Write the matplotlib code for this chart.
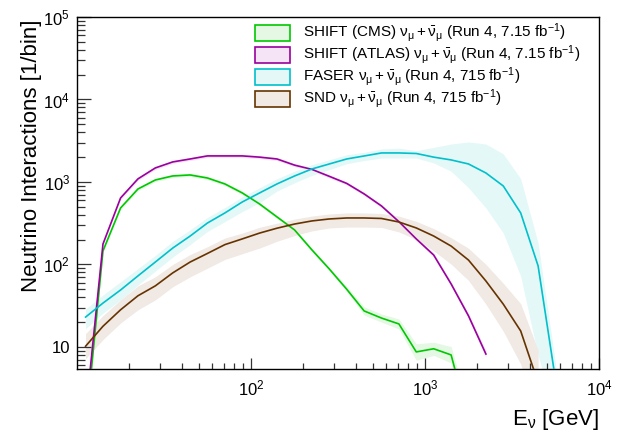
import numpy as np
import matplotlib
matplotlib.use("Agg")
import matplotlib.pyplot as plt
from matplotlib.patches import Rectangle

plt.rcParams['font.family'] = ['Liberation Sans', 'DejaVu Sans']
plt.rcParams['mathtext.fontset'] = 'custom'
plt.rcParams['mathtext.rm'] = 'Liberation Sans'
plt.rcParams['mathtext.it'] = 'Liberation Sans'
plt.rcParams['mathtext.bf'] = 'Liberation Sans:bold'

# bin centres [GeV], 10 bins per decade
energy = [11.2, 14.1, 17.8, 22.4, 28.2, 35.5, 44.7, 56.2, 70.8, 89.1, 112, 141, 178, 224,
          282, 355, 447, 562, 708, 891, 1122, 1413, 1778, 2239, 2818, 3548, 4467, 5623]

# SHIFT (CMS)
cms = [1.0, 146, 484, 822, 1057, 1183, 1216, 1117, 946, 736, 541, 377, 262, 150, 88, 50,
       27.3, 22.4, 19, 8.7, 9.5, 8.0, 1.3]
cms_hi = [1.05, 153, 507, 861, 1107, 1239, 1274, 1170, 991, 771, 567, 395, 274, 157, 92, 54,
          30.6, 25.1, 21.8, 10.9, 11.4, 10.1, 1.8]
cms_lo = [0.95, 139, 462, 785, 1009, 1130, 1161, 1067, 903, 703, 517, 360, 250, 143, 84, 47,
          24.3, 20.0, 16.5, 6.9, 7.9, 6.4, 0.9]

# SHIFT (ATLAS)
atlas = [1.5, 177, 640, 1090, 1480, 1750, 1900, 2070, 2070, 2070, 2000, 1900, 1600, 1420,
         1170, 960, 716, 512, 330, 204, 130, 58, 23.8, 8.2]
atlas_hi = [1.6, 184, 668, 1136, 1540, 1823, 1980, 2160, 2160, 2160, 2085, 1982, 1670, 1480,
            1220, 1002, 748, 535, 346, 214, 137, 61.5, 25.5, 9.0]
atlas_lo = [1.4, 170, 613, 1045, 1420, 1680, 1822, 1985, 1985, 1985, 1918, 1822, 1533, 1360,
            1120, 920, 686, 490, 315, 195, 124, 54.7, 22.2, 7.5]

# FASER
faser = [23, 34, 49, 72.6, 107, 158, 221, 318, 421, 572, 736, 946, 1182, 1438, 1653, 1900,
         2066, 2248, 2248, 2214, 2000, 1850, 1653, 1285, 894, 421, 96, 4]
faser_hi = [28.8, 42.7, 61.7, 89, 129, 191, 263, 372, 490, 661, 851, 1096, 1349, 1622, 1862,
            2138, 2291, 2512, 2570, 2399, 2630, 2884, 3055, 2884, 2188, 1096, 182, 6.3]
faser_lo = [16.6, 25.7, 37.2, 56.2, 83.2, 123, 174, 251, 331, 437, 562, 776, 977, 1202, 1413,
            1660, 1820, 1950, 1950, 1950, 1700, 1349, 851, 484, 240, 72, 7.8, 1.6]

# SND
snd = [10.2, 17.8, 28.2, 41.7, 55, 79, 107, 136, 174, 204, 240, 275, 309, 337, 356, 366,
       366, 361, 327, 277, 221, 167, 113, 63, 33, 15.6, 3.7]
snd_hi = [14.5, 24, 37.2, 55, 70.8, 100, 132, 164, 209, 240, 282, 316, 355, 386, 409, 421,
          421, 415, 385, 333, 272, 211, 157, 100, 59, 33.4, 9.1]
snd_lo = [7.2, 12.3, 19.5, 28.2, 37.2, 53.7, 70.8, 90.2, 115, 135, 158, 191, 224, 255, 277,
          284, 284, 281, 248, 200, 146, 101, 64, 33, 15.5, 6.2, 1.15]

series = [
    (r"SHIFT (CMS) $\nu_{\mu}+\bar{\nu}_{\mu}$ (Run 4, 7.15 fb$^{-1}$)", cms, cms_hi, cms_lo, '#00c800', '#e4f8e4'),
    (r"SHIFT (ATLAS) $\nu_{\mu}+\bar{\nu}_{\mu}$ (Run 4, 7.15 fb$^{-1}$)", atlas, atlas_hi, atlas_lo, '#9a009e', '#f5e4f5'),
    (r"FASER $\nu_{\mu}+\bar{\nu}_{\mu}$ (Run 4, 715 fb$^{-1}$)", faser, faser_hi, faser_lo, '#00c0cc', '#e4f8f8'),
    (r"SND $\nu_{\mu}+\bar{\nu}_{\mu}$ (Run 4, 715 fb$^{-1}$)", snd, snd_hi, snd_lo, '#663300', '#f0e9e4'),
]

fig = plt.figure(figsize=(6.21, 4.37), dpi=100)
ax = fig.add_axes([77/621, 1-369/437, 522/621, 352/437])

for label, y, hi, lo, col, fill in series:
    x = energy[:len(y)]
    ax.fill_between(x, lo, hi, color=fill, lw=0, zorder=1)
for label, y, hi, lo, col, fill in series:
    x = energy[:len(y)]
    ax.plot(x, y, color=col, lw=1.2, zorder=3)

ax.set_xscale('log')
ax.set_yscale('log')
ax.set_xlim(10, 1e4)
ax.set_ylim(5.4, 1e5)

ax.set_xticks([100, 1000, 10000])
ax.set_xticklabels([r"$10^{2}$", r"$10^{3}$", r"$10^{4}$"])
ax.set_yticks([10, 100, 1000, 10000, 100000])
ax.set_yticklabels(["10", r"$10^{2}$", r"$10^{3}$", r"$10^{4}$", r"$10^{5}$"])
ax.tick_params(axis='both', which='both', direction='in', labelsize=12, width=0.9, color='#333333')
ax.tick_params(axis='y', which='major', length=10, pad=5)
ax.tick_params(axis='y', which='minor', length=5.5)
ax.tick_params(axis='x', which='major', length=8, pad=7)
ax.tick_params(axis='x', which='minor', length=4)
for s in ax.spines.values():
    s.set_linewidth(1.0)

# legend drawn by hand, ROOT style
for i, (label, y, hi, lo, col, fill) in enumerate(series):
    yc = (369 - (33 + 22 * i)) / 352
    ax.add_patch(Rectangle((0.341, yc - 0.0227), 0.067, 0.0455, transform=ax.transAxes,
                           facecolor=fill, edgecolor=col, lw=1.2, zorder=5))
    ax.text(0.433, yc, label, transform=ax.transAxes, fontsize=11, va='center', ha='left')

fig.text(32/621, 1-19/437, "Neutrino Interactions [1/bin]", rotation=90, ha='center', va='top', fontsize=16)
fig.text(599/621, 1-425/437, r"E$_{\nu}$ [GeV]", ha='right', va='baseline', fontsize=16)

fig.savefig("out.png", dpi=100)
